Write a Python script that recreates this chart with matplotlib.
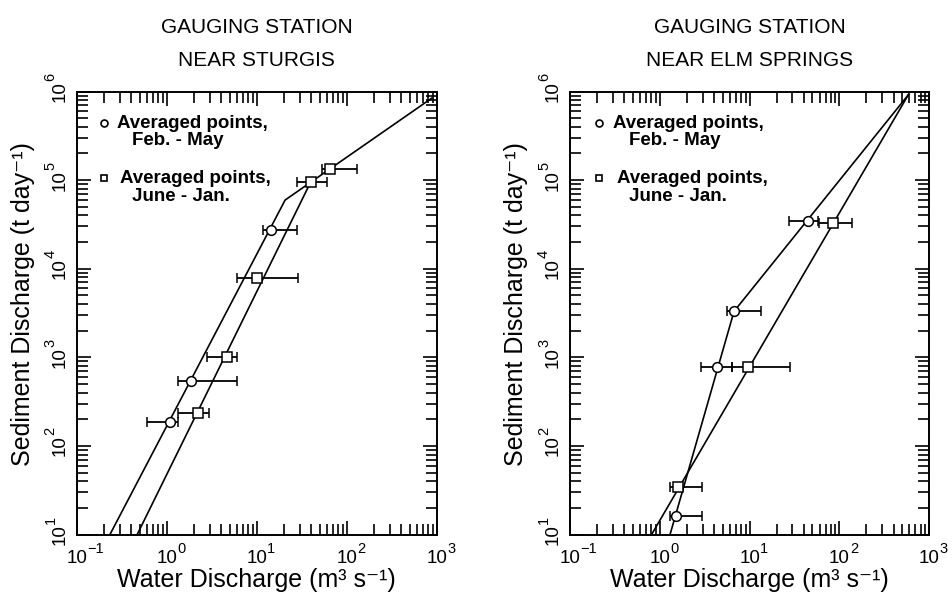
import matplotlib.pyplot as plt
import matplotlib.transforms as mtransforms
from matplotlib.ticker import LogLocator, NullFormatter
import numpy as np

plt.rcParams['font.family'] = ['Liberation Sans', 'DejaVu Sans']

# --- Sturgis: averaged points (water discharge, sediment discharge, x error range)
st_feb_q = [1.09, 1.86, 14.3]
st_feb_s = [188, 544, 2.73e4]
st_feb_lo = [0.60, 1.33, 11.9]
st_feb_hi = [1.33, 6.08, 27.8]
st_jun_q = [2.21, 4.7, 10.0, 39.8, 65.3]
st_jun_s = [233, 1016, 7.8e3, 9.5e4, 1.32e5]
st_jun_lo = [1.33, 2.78, 6.0, 27.8, 52.7]
st_jun_hi = [2.97, 6.08, 28.6, 60.0, 129]
# fitted rating curves
st_feb_fit_q = [0.234, 20.7, 880]
st_feb_fit_s = [10, 5.96e4, 8.4e5]
st_jun_fit_q = [0.47, 39.8]
st_jun_fit_s = [10, 9.5e4]

# --- Elm Springs
el_feb_q = [1.51, 4.3, 6.7, 44.4]
el_feb_s = [16, 771, 3300, 3.48e4]
el_feb_lo = [1.3, 2.85, 5.56, 27.7]
el_feb_hi = [2.92, 6.3, 13.4, 58.2]
el_jun_q = [1.61, 9.5, 85.5]
el_jun_s = [34.5, 771, 3.28e4]
el_jun_lo = [1.3, 6.3, 59.7]
el_jun_hi = [2.92, 28.2, 137]
el_feb_fit_q = [1.3, 6.7, 585]
el_feb_fit_s = [10, 3300, 9.2e5]
el_jun_fit_q = [0.81, 585]
el_jun_fit_s = [10, 9.2e5]

x_decades = [-1, 0, 1, 2, 3]
y_decades = [1, 2, 3, 4, 5, 6]
titles = ["GAUGING STATION\nNEAR STURGIS", "GAUGING STATION\nNEAR ELM SPRINGS"]

fig = plt.figure(figsize=(9.53, 5.92), dpi=100)
ax1 = fig.add_axes([0.0805, 0.0971, 0.3777, 0.7483])
ax2 = fig.add_axes([0.5981, 0.0971, 0.3770, 0.7483])

panels = [
    (ax1, st_feb_q, st_feb_s, st_feb_lo, st_feb_hi, st_jun_q, st_jun_s, st_jun_lo, st_jun_hi,
     st_feb_fit_q, st_feb_fit_s, st_jun_fit_q, st_jun_fit_s),
    (ax2, el_feb_q, el_feb_s, el_feb_lo, el_feb_hi, el_jun_q, el_jun_s, el_jun_lo, el_jun_hi,
     el_feb_fit_q, el_feb_fit_s, el_jun_fit_q, el_jun_fit_s),
]


def px(dx, dy):
    # offset in pixels (figure is 100 dpi)
    return mtransforms.ScaledTranslation(dx / 100, dy / 100, fig.dpi_scale_trans)


def exp_str(d):
    return str(d).replace('-', '\u2212')


lw = 1.2
for i, (ax, fq, fs, flo, fhi, jq, js, jlo, jhi, ffq, ffs, jfq, jfs) in enumerate(panels):
    ax.set_xscale('log')
    ax.set_yscale('log')
    ax.set_xlim(0.1, 1000)
    ax.set_ylim(10, 1e6)

    # fitted lines
    ax.plot(ffq, ffs, color='black', lw=lw, zorder=2)
    ax.plot(jfq, jfs, color='black', lw=lw, zorder=2)

    # averaged points with horizontal ranges
    fq_a, jq_a = np.array(fq), np.array(jq)
    ax.errorbar(fq, fs, xerr=[fq_a - np.array(flo), np.array(fhi) - fq_a], fmt='o',
                ms=7, mfc='white', mec='black', mew=1.1, ecolor='black',
                elinewidth=1.3, capsize=3.6, capthick=1.3, zorder=3)
    ax.errorbar(jq, js, xerr=[jq_a - np.array(jlo), np.array(jhi) - jq_a], fmt='s',
                ms=7, mfc='white', mec='black', mew=1.1, ecolor='black',
                elinewidth=1.3, capsize=3.6, capthick=1.3, zorder=3)

    # ticks
    for axis in (ax.xaxis, ax.yaxis):
        axis.set_major_locator(LogLocator(base=10, numticks=12))
        axis.set_minor_locator(LogLocator(base=10, subs=np.arange(2, 10), numticks=12))
        axis.set_minor_formatter(NullFormatter())
    ax.tick_params(which='both', direction='in', top=True, right=True,
                   labelbottom=False, labelleft=False, width=1.2)
    ax.tick_params(which='major', length=10)
    ax.tick_params(which='minor', length=8)
    for sp in ax.spines.values():
        sp.set_linewidth(1.4)

    # tick labels: "10" centred on the tick, exponent raised beside it
    xt = mtransforms.blended_transform_factory(ax.transData, ax.transAxes)
    yt = mtransforms.blended_transform_factory(ax.transAxes, ax.transData)
    for d in x_decades:
        ax.text(10.0 ** d, 0, '10', fontsize=13.5, ha='center', va='baseline',
                transform=xt + px(0, -28))
        ax.text(10.0 ** d, 0, exp_str(d), fontsize=10.5, ha='left', va='baseline',
                transform=xt + px(10.5, -18))
    for d in y_decades:
        ax.text(0, 10.0 ** d, '10', fontsize=13.5, ha='center', va='baseline',
                rotation=90, rotation_mode='anchor', transform=yt + px(-12, 0))
        ax.text(0, 10.0 ** d, exp_str(d), fontsize=10.5, ha='left', va='baseline',
                rotation=90, rotation_mode='anchor', transform=yt + px(-22, 10.5))

    # axis labels
    ax.text(0.5, -0.1174, 'Water Discharge (m\u00b3 s\u207b\u00b9)',
            transform=ax.transAxes, ha='center', va='baseline', fontsize=18)
    ax.text(-0.149, 0.52, 'Sediment Discharge (t day\u207b\u00b9)',
            transform=ax.transAxes, ha='center', va='center', rotation=90, fontsize=18)

    # title
    l1, l2 = titles[i].split('\n')
    ax.text(0.5, 1.132, l1, transform=ax.transAxes, ha='center', va='baseline', fontsize=15)
    ax.text(0.5, 1.0576, l2, transform=ax.transAxes, ha='center', va='baseline', fontsize=15)

    # legend, drawn by hand
    mx = 0.076 if i == 0 else 0.0815
    tx1 = 0.111 if i == 0 else 0.1205
    tx2 = 0.12 if i == 0 else 0.13
    tx3 = 0.154 if i == 0 else 0.165
    ax.plot([mx], [0.928], marker='o', ms=5, mfc='white', mec='black', mew=1.2,
            transform=ax.transAxes)
    ax.plot([mx], [0.804], marker='s', ms=4.5, mfc='white', mec='black', mew=1.2,
            transform=ax.transAxes)
    ax.text(tx1, 0.928, 'Averaged points,', transform=ax.transAxes, va='center',
            fontsize=13.5, fontweight='bold')
    ax.text(tx3, 0.8905, 'Feb. - May', transform=ax.transAxes, va='center',
            fontsize=13.5, fontweight='bold')
    ax.text(tx2, 0.804, 'Averaged points,', transform=ax.transAxes, va='center',
            fontsize=13.5, fontweight='bold')
    ax.text(tx3, 0.764, 'June - Jan.', transform=ax.transAxes, va='center',
            fontsize=13.5, fontweight='bold')

fig.savefig('out.png', dpi=100)
